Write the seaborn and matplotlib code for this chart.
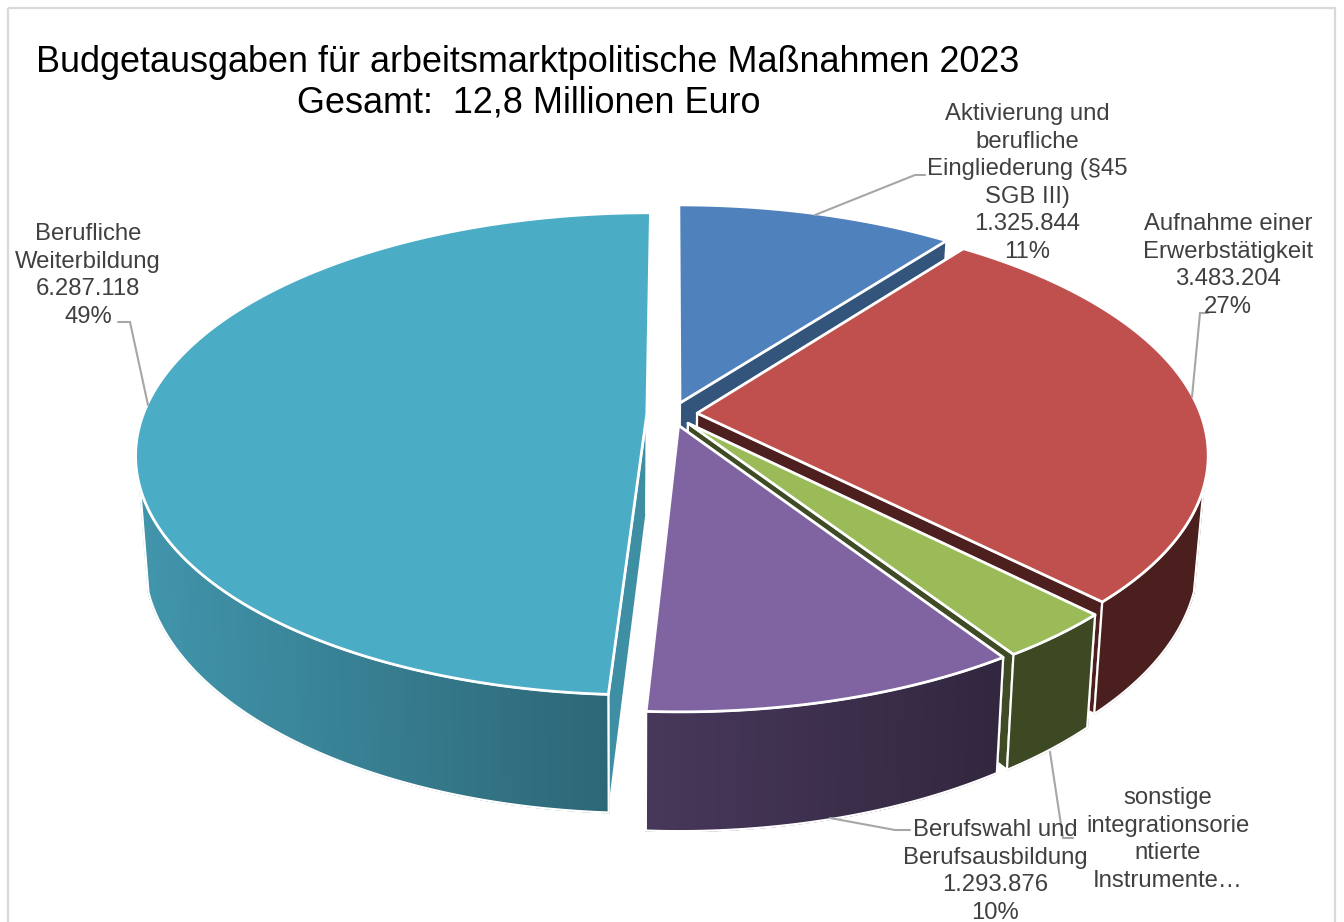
import numpy as np
import matplotlib
matplotlib.use("Agg")
import matplotlib.pyplot as plt
from matplotlib.patches import Polygon, Rectangle
import seaborn as sns

# Budget figures per measure, clockwise from twelve o'clock
measures = ["Aktivierung und\nberufliche\nEingliederung (§45\nSGB III)",
            "Aufnahme einer\nErwerbstätigkeit",
            "sonstige\nintegrationsorie\nntierte\nInstrumente…",
            "Berufswahl und\nBerufsausbildung",
            "Berufliche\nWeiterbildung"]
amounts = [1325844, 3483204, 410000, 1293876, 6287118]
amount_text = ["1.325.844", "3.483.204", None, "1.293.876", "6.287.118"]
share_text = ["11%", "27%", None, "10%", "49%"]
base_colors = ["#4F81BD", "#C0504D", "#9BBB59", "#8064A2", "#4BACC6"]
title_lines = ["Budgetausgaben für arbeitsmarktpolitische Maßnahmen 2023",
               "Gesamt:  12,8 Millionen Euro"]

sns.set_theme(style="white")
plt.rcParams["font.family"] = ["Liberation Sans", "DejaVu Sans"]
palette = sns.color_palette(base_colors)

# Perspective of the tilted disc, in figure pixels
CX, CY = 672.0, 414.0
A, B, K = 503.5, 234.5, 1 / 6
EXPLODE = 0.05
PIVOT_X = 630.0
SHRINK = 0.017
SILHOUETTE = 0.30  # depth coordinate behind which the outer wall is hidden


def project(theta, radius, mid, lower):
    """Map a polar point of one exploded slice onto the canvas."""
    u = radius * np.sin(theta) + EXPLODE * np.sin(mid)
    v = -radius * np.cos(theta) - EXPLODE * np.cos(mid)
    w = 1 - K * v
    x = CX + A * u / w
    y = CY + B * v / w
    if lower:
        depth = 100 + (y - 420) * 0.066
        x = PIVOT_X + (x - PIVOT_X) * (1 - SHRINK)
        y = y + depth
    return np.column_stack([np.atleast_1d(x), np.atleast_1d(y)])


def shade(x):
    """Brightness of the outer wall, falling off from left to right."""
    return np.interp(x, [150, 607, 645, 1000], [0.86, 0.60, 0.56, 0.39])


def dim(color, factor):
    return tuple(c * factor for c in color)


fig = plt.figure(figsize=(13.44, 9.22), dpi=100)
ax = fig.add_axes([0, 0, 1, 1])
ax.set_xlim(0, 1344)
ax.set_ylim(922, 0)
ax.axis("off")
ax.add_patch(Rectangle((8, 8), 1327, 960, fill=False, ec="#D9D9D9", lw=1.6))

edges = np.cumsum([0] + amounts) / sum(amounts) * 2 * np.pi
wall_factor = [0.65, 0.40, 0.40, 0.40, 0.83]
spans = {i: (edges[i], edges[i + 1]) for i in range(len(amounts))}

# Painter's order: rear slice first, then round towards the viewer
for i in [0, 4, 1, 2, 3]:
    start, end = spans[i]
    mid = (start + end) / 2
    thetas = np.linspace(start, end, max(6, int(np.degrees(end - start) * 2)))
    color = palette[i]

    top_rim = project(thetas, 1.0, mid, False)
    low_rim = project(thetas, 1.0, mid, True)
    top_apex = project(0.0, 0.0, mid, False)
    low_apex = project(0.0, 0.0, mid, True)

    # Flat cut faces
    for rim_top, rim_low in [(top_rim[0], low_rim[0]), (top_rim[-1], low_rim[-1])]:
        ax.add_patch(Polygon([top_apex[0], rim_top, rim_low, low_apex[0]],
                             closed=True, fc=dim(color, wall_factor[i]),
                             ec="white", lw=1.6, joinstyle="round"))

    # Curved outer wall, built from narrow strips; the rear part stays hidden
    visible = np.flatnonzero(-np.cos(thetas) > SILHOUETTE)
    if visible.size > 1:
        for j in visible[:-1]:
            strip = [top_rim[j], top_rim[j + 1], low_rim[j + 1], low_rim[j]]
            tone = dim(color, shade(top_rim[j, 0]))
            ax.add_patch(Polygon(strip, closed=True, fc=tone, ec=tone, lw=1.2))
        ax.add_patch(Polygon(np.vstack([top_rim[visible], low_rim[visible][::-1]]),
                             closed=True, fill=False, ec="white", lw=1.6,
                             joinstyle="round"))

    # Top face
    ax.add_patch(Polygon(np.vstack([top_apex, top_rim]), closed=True, fc=color,
                         ec="white", lw=2.0, joinstyle="round"))

# Leader lines
leader_color = "#A6A6A6"
leaders = [[(815, 215), (915, 175), (925, 175)],
           [(1192, 397), (1200, 313), (1208, 313)],
           [(1050, 752), (1063, 838), (1073, 838)],
           [(830, 818), (895, 830), (910, 830)],
           [(148, 405), (130, 322), (118, 322)]]
for path in leaders:
    xs, ys = zip(*path)
    ax.plot(xs, ys, color=leader_color, lw=1.5, solid_joinstyle="miter")

# Data labels
label_anchor = [(1027, 103), (1228, 213), (1168, 787), (995, 819), (88, 223)]
for name, amount, share, (lx, ly) in zip(measures, amount_text, share_text, label_anchor):
    parts = [name] + [p for p in (amount, share) if p]
    ax.text(lx, ly, "\n".join(parts), ha="center", va="top", color="#404040",
            fontsize=17.2, linespacing=1.33, clip_on=False)

# Chart title
ax.text(528, 63, title_lines[0], ha="center", va="center", color="black", fontsize=25.9)
ax.text(529, 103, title_lines[1], ha="center", va="center", color="black", fontsize=25.9)

fig.savefig("out.png", dpi=100, facecolor="white")
